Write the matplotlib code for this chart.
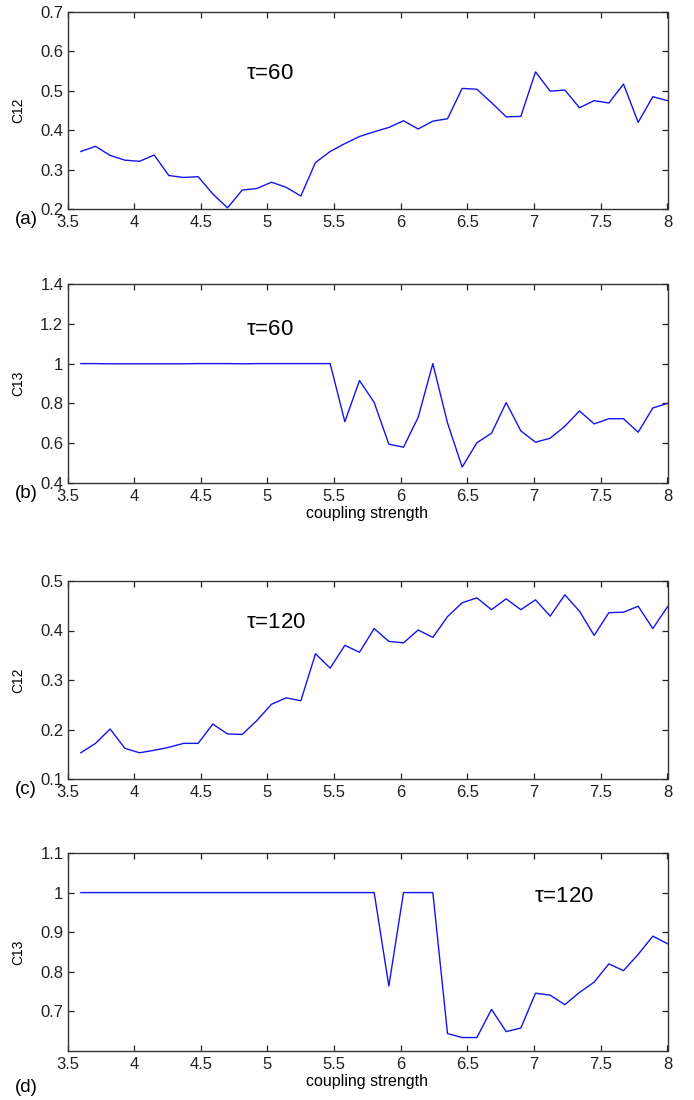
import numpy as np
import matplotlib
matplotlib.use("Agg")
import matplotlib.pyplot as plt
from matplotlib.ticker import FormatStrFormatter

plt.rcParams['font.family'] = ['Liberation Sans', 'DejaVu Sans']

# coupling strength grid shared by all four runs
coupling = [3.60, 3.71, 3.82, 3.93, 4.04, 4.15, 4.26, 4.37, 4.48, 4.59,
            4.70, 4.81, 4.92, 5.03, 5.14, 5.25, 5.36, 5.47, 5.58, 5.69,
            5.80, 5.91, 6.02, 6.13, 6.24, 6.35, 6.46, 6.57, 6.68, 6.79,
            6.90, 7.01, 7.12, 7.23, 7.34, 7.45, 7.56, 7.67, 7.78, 7.89,
            8.00]

# correlation between lasers 1 and 2, delay 60
c12_tau60 = [0.346, 0.359, 0.336, 0.324, 0.321, 0.337, 0.285, 0.280, 0.282, 0.238,
             0.203, 0.248, 0.252, 0.268, 0.255, 0.233, 0.318, 0.346, 0.366, 0.384,
             0.396, 0.407, 0.424, 0.403, 0.423, 0.429, 0.506, 0.504, 0.470, 0.434,
             0.435, 0.548, 0.499, 0.502, 0.457, 0.475, 0.469, 0.517, 0.420, 0.485,
             0.475]

# correlation between lasers 1 and 3, delay 60
c13_tau60 = [1.000, 1.000, 0.999, 0.999, 0.999, 0.999, 0.999, 0.999, 1.000, 1.000,
             1.000, 0.999, 1.000, 1.000, 1.000, 1.000, 1.000, 1.000, 0.708, 0.915,
             0.805, 0.595, 0.580, 0.730, 1.000, 0.702, 0.480, 0.602, 0.650, 0.804,
             0.662, 0.605, 0.625, 0.685, 0.762, 0.697, 0.723, 0.723, 0.655, 0.777,
             0.800]

# delay 120
c12_tau120 = [0.153, 0.172, 0.201, 0.162, 0.153, 0.158, 0.164, 0.172, 0.172, 0.211,
              0.191, 0.190, 0.218, 0.251, 0.264, 0.258, 0.353, 0.324, 0.370, 0.356,
              0.404, 0.378, 0.375, 0.401, 0.386, 0.428, 0.456, 0.466, 0.442, 0.464,
              0.442, 0.462, 0.429, 0.472, 0.439, 0.390, 0.436, 0.437, 0.449, 0.404,
              0.448]

c13_tau120 = [1.000, 1.000, 1.000, 1.000, 1.000, 1.000, 1.000, 1.000, 1.000, 1.000,
              1.000, 1.000, 1.000, 1.000, 1.000, 1.000, 1.000, 1.000, 1.000, 1.000,
              1.000, 0.764, 1.000, 1.000, 1.000, 0.644, 0.634, 0.634, 0.705, 0.649,
              0.658, 0.746, 0.741, 0.717, 0.748, 0.774, 0.820, 0.803, 0.844, 0.890,
              0.871]

xticks = [3.5, 4, 4.5, 5, 5.5, 6, 6.5, 7, 7.5, 8]

panels = [
    # series, ylabel, ylim, yticks, tau text, (tx, ty), tag, tag y (px), xlabel
    (c12_tau60, "C12", (0.2, 0.7), [0.2, 0.3, 0.4, 0.5, 0.6, 0.7],
     r"$\tau$=60", (4.84, 0.543), "(a)", 220, False),
    (c13_tau60, "C13", (0.4, 1.4), [0.4, 0.6, 0.8, 1.0, 1.2, 1.4],
     r"$\tau$=60", (4.84, 1.169), "(b)", 493, True),
    (c12_tau120, "C12", (0.1, 0.5), [0.1, 0.2, 0.3, 0.4, 0.5],
     r"$\tau$=120", (4.84, 0.416), "(c)", 789, False),
    (c13_tau120, "C13", (0.6, 1.1), [0.7, 0.8, 0.9, 1.0, 1.1],
     r"$\tau$=120", (7.0, 0.99), "(d)", 1087, True),
]

# axes boxes in pixels (top, bottom) on a 694 x 1100 canvas
boxes = [(12, 209), (284, 483), (581, 779), (853, 1051)]

W, H = 694, 1100
fig = plt.figure(figsize=(W / 100, H / 100), dpi=100)
plt.rcParams['mathtext.fontset'] = 'custom'
plt.rcParams['mathtext.rm'] = 'Liberation Sans'
plt.rcParams['mathtext.it'] = 'Liberation Sans'

left, right = 67.5, 667.5
for (y, ylab, ylim, yt, tau, tpos, tag, tag_y, xl), (top, bot) in zip(panels, boxes):
    ax = fig.add_axes([left / W, 1 - bot / H, (right - left) / W, (bot - top) / H])
    ax.plot(coupling, y, color='#1414ec', lw=1.0)
    ax.set_xlim(3.5, 8)
    ax.set_ylim(*ylim)
    ax.set_xticks(xticks)
    ax.set_yticks(yt)
    ax.xaxis.set_major_formatter(FormatStrFormatter('%g'))
    ax.yaxis.set_major_formatter(FormatStrFormatter('%g'))
    ax.tick_params(direction='in', length=4, width=0.9, top=True, right=True,
                   labelsize=12, colors='#222222')
    ax.tick_params(axis='x', pad=4)
    ax.tick_params(axis='y', pad=3)
    for s in ax.spines.values():
        s.set_linewidth(1.0)
        s.set_color('#333333')
    ax.set_ylabel(ylab, fontsize=10)
    ax.yaxis.set_label_coords(-0.07, 0.5)
    if xl:
        ax.set_xlabel("coupling strength", fontsize=11.5, labelpad=2)
    ax.text(tpos[0], tpos[1], tau, fontsize=16, ha='left', va='center')
    fig.text(15 / W, 1 - tag_y / H, tag, fontsize=13.5, ha='left', va='center')

fig.savefig("out.png", dpi=100)
